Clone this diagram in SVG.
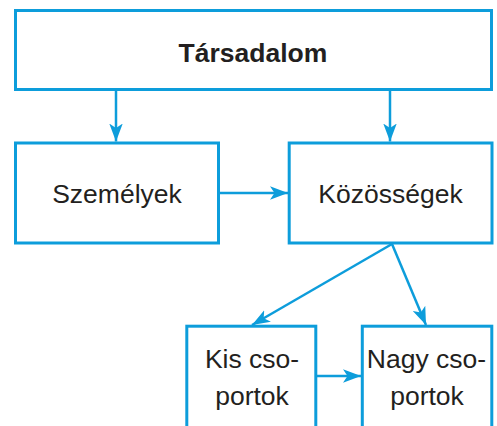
<svg xmlns="http://www.w3.org/2000/svg" width="497" height="426" viewBox="0 0 497 426">
<style>
.box{fill:#fff;stroke:#0d9ddb;stroke-width:3}
.con{stroke:#0d9ddb;stroke-width:2.5;fill:none;marker-end:url(#ah)}
.t{font-family:"Liberation Sans",Arial,sans-serif;font-size:26.5px;fill:#231f20;text-anchor:middle}
.b{font-weight:bold}
</style>
<defs>
<marker id="ah" markerUnits="userSpaceOnUse" markerWidth="18" markerHeight="14" viewBox="0 0 16 12" refX="16" refY="6" orient="auto">
<path d="M0,0 L16,6 L0,12 L4,6 Z" fill="#0d9ddb"/>
</marker>
</defs>
<rect width="497" height="426" fill="#fff"/>
<g id="connectors">
<line class="con" x1="116" y1="90" x2="116" y2="141.5"/>
<line class="con" x1="390" y1="90" x2="390" y2="141.5"/>
<line class="con" x1="219.5" y1="193" x2="288" y2="193"/>
<line class="con" x1="392" y1="244" x2="252" y2="325"/>
<line class="con" x1="392" y1="244" x2="426" y2="325"/>
<line class="con" x1="317" y1="376" x2="361" y2="376"/>
</g>
<g id="tarsadalom">
<rect class="box" x="15.5" y="10.5" width="476" height="79"/>
<text class="t b" x="253" y="62">Társadalom</text>
</g>
<g id="szemelyek">
<rect class="box" x="15.5" y="143" width="203" height="100"/>
<text class="t" x="117" y="203">Személyek</text>
</g>
<g id="kozossegek">
<rect class="box" x="289.2" y="143" width="202.8" height="100"/>
<text class="t" x="390.5" y="203">Közösségek</text>
</g>
<g id="kis-csoportok">
<rect class="box" x="186.8" y="326.2" width="129" height="110"/>
<text class="t" x="252" y="368">Kis cso-</text>
<text class="t" x="252" y="405">portok</text>
</g>
<g id="nagy-csoportok">
<rect class="box" x="362.3" y="326.2" width="129.5" height="110"/>
<text class="t" x="426.5" y="368">Nagy cso-</text>
<text class="t" x="427" y="405">portok</text>
</g>
</svg>
